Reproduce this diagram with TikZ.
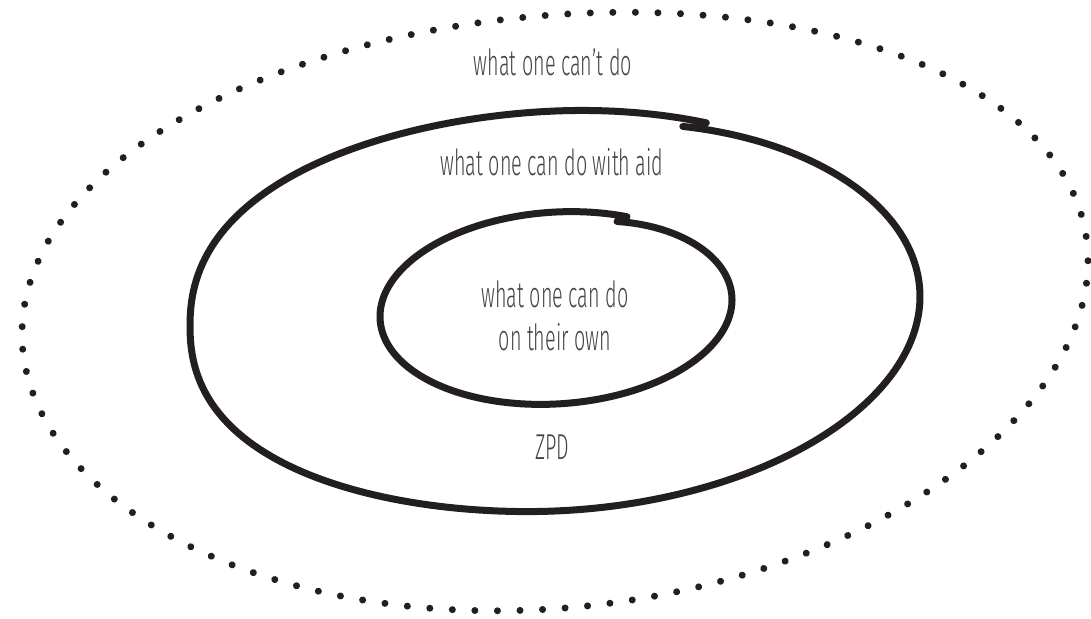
\documentclass[tikz,border=0pt]{standalone}
\usepackage{fontspec}
\usetikzlibrary{decorations.markings}
\newfontfamily\handfont[FakeStretch=0.55]{Fira Sans Light}
\definecolor{ink}{HTML}{231F20}
\definecolor{txt}{HTML}{444444}
\begin{document}
\begin{tikzpicture}[x=1pt,y=-1pt,
  ring/.style={draw=ink,line width=7pt,line cap=round,line join=round},
  dotring/.style={decorate,decoration={markings,
      mark=between positions 0 and 0.995 step 0.0084746 with {\fill[ink] (0pt,0pt) circle (3.5pt);}}},
  lbl/.style={text=txt,font=\handfont\fontsize{36}{43}\selectfont,inner sep=0pt,align=center}]
\useasboundingbox (0,0) rectangle (1091,618);
% outer dotted region: what one can't do
\path[dotring] plot[domain=0:360,samples=241,variable=\t]
  ({555+533*cos(\t)},{304.5+297*sin(\t)-36.5*cos(\t)-7.25*cos(2*\t)});
% middle ring: with aid (hand-drawn loop with overlapping ends, fuller on the left)
\draw[ring] plot[domain=-69.5:294.5,samples=241,variable=\t]
  ({555+365*cos(\t)*pow(abs(cos(\t))+0.0001,0.1*min(cos(\t),0))},
   {311+200*sin(\t)*pow(abs(sin(\t))+0.0001,0.1*min(cos(\t),0))-15*cos(\t)+8*exp(-(\t+69.5)/25)});
% inner ring: on their own
\draw[ring] plot[domain=-69.7:293.8,samples=241,variable=\t]
  ({556+176*cos(\t)},{308+96*sin(\t)-8.5*cos(\t)+6.5*exp(-(\t+69.7)/25)});
\node[lbl] (cant) at (553,62) {what one can’t do};
\node[lbl] (aid) at (552,162) {what one can do with aid};
\node[lbl] (own) at (555,316) {what one can do\\on their own};
\node[lbl] (zpd) at (552,447) {ZPD};
\end{tikzpicture}
\end{document}
